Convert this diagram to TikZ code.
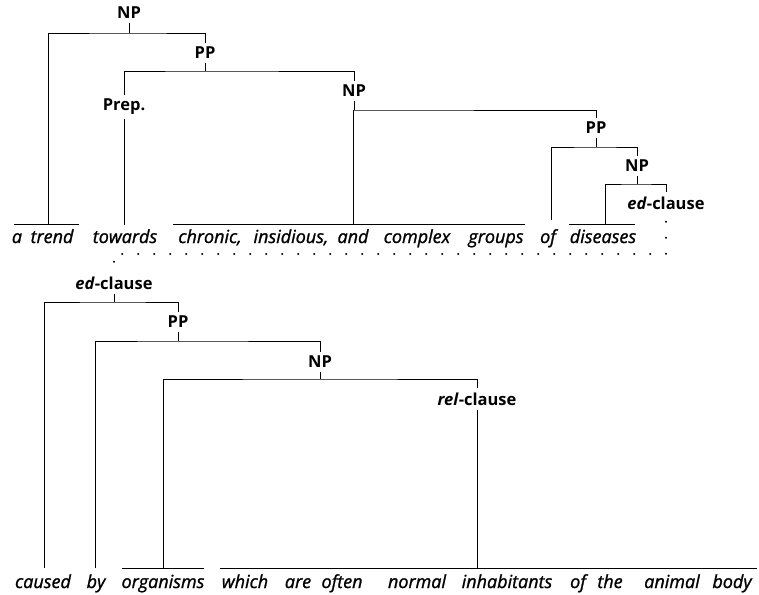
\documentclass[tikz,border=0pt]{standalone}
\usepackage{fontspec}
\setmainfont{Open Sans}
\newfontfamily\wordfont[FakeBold=1.2]{Open Sans}
\begin{document}
\begin{tikzpicture}[x=1pt,y=-1pt,line width=0.8pt,
  cat/.style={font=\fontsize{16.5}{19}\selectfont\bfseries,inner sep=4pt},
  word/.style={font=\fontsize{18}{21}\selectfont\wordfont\itshape,inner sep=0pt,anchor=base},
  dotlink/.style={line width=2.4pt,line cap=round,dash pattern=on 0pt off 16pt,dash phase=8pt}]
  \useasboundingbox (0,0) rectangle (759,594);
  % categories of the first line
  \node[cat] (np1) at (129,13) {NP};
  \node[cat] (pp1) at (205,53) {PP};
  \node[cat] (prep) at (124,107) {Prep.};
  \node[cat] (np2) at (354,91) {NP};
  \node[cat] (pp2) at (596,128) {PP};
  \node[cat] (np3) at (637,166) {NP};
  \node[cat] (ed1) at (666,203) {\textit{ed}-clause};
  % words of the first line
  \node[word] (wa) at (17,243) {a};
  \node[word] (wtrend) at (52,243) {trend};
  \node[word] (wtowards) at (125,243) {towards};
  \node[word] (wchronic) at (210,243) {chronic,};
  \node[word] (winsid) at (291,243) {insidious,};
  \node[word] (wand) at (353,243) {and};
  \node[word] (wcomplex) at (417,243) {complex};
  \node[word] (wgroups) at (496,243) {groups};
  \node[word] (wof) at (548,243) {of};
  \node[word] (wdiseases) at (603,243) {diseases};
  % categories of the second line
  \node[cat] (ed2) at (114,283) {\textit{ed}-clause};
  \node[cat] (pp3) at (178,322) {PP};
  \node[cat] (np4) at (320,362) {NP};
  \node[cat] (rel) at (477,399) {\textit{rel}-clause};
  % words of the second line
  \node[word] (wcaused) at (43,588) {caused};
  \node[word] (wby) at (96,588) {by};
  \node[word] (worg) at (163,588) {organisms};
  \node[word] (wwhich) at (245,588) {which};
  \node[word] (ware) at (298,588) {are};
  \node[word] (woften) at (342,588) {often};
  \node[word] (wnormal) at (417,588) {normal};
  \node[word] (winhab) at (507,588) {inhabitants};
  \node[word] (wof2) at (578,588) {of};
  \node[word] (wthe) at (610,588) {the};
  \node[word] (wanimal) at (672,588) {animal};
  \node[word] (wbody) at (732,588) {body};
  % underlines and attachment points
  \coordinate (uA1) at (14,224); \coordinate (uA2) at (79,224);
  \coordinate (uB1) at (173,224); \coordinate (uB2) at (525,224);
  \coordinate (uC1) at (569,224); \coordinate (uC2) at (635,224);
  \coordinate (uD1) at (122,568); \coordinate (uD2) at (204,568);
  \coordinate (uE1) at (220,568); \coordinate (uE2) at (757,568);
  \draw (uA1) -- (uA2) (uB1) -- (uB2) (uC1) -- (uC2) (uD1) -- (uD2) (uE1) -- (uE2);
  \coordinate (hA) at (48,224);
  \coordinate (hTo) at (124,225);
  \coordinate (hB) at (353,224);
  \coordinate (hOf) at (551,220);
  \coordinate (hC) at (605,224);
  \coordinate (hCa) at (44,568);
  \coordinate (hBy) at (95,568);
  \coordinate (hD) at (163,568);
  \coordinate (hE) at (477,568);
  % bars
  \coordinate (b1) at (129,33);
  \coordinate (b2) at (205,71);
  \coordinate (b3) at (354,110);
  \coordinate (b4) at (596,147);
  \coordinate (b5) at (637,184);
  \coordinate (b6) at (114,302);
  \coordinate (b7) at (178,341);
  \coordinate (b8) at (320,379);
  % branches
  \draw (np1) -- (b1) (hA) |- (b1) -| (pp1);
  \draw (pp1) -- (b2) (prep) |- (b2) -| (np2);
  \draw (prep) -- (hTo);
  \draw (np2) -- (b3) (hB) |- (b3) -| (pp2);
  \draw (pp2) -- (b4) (hOf) |- (b4) -| (np3);
  \draw (np3) -- (b5) (hC) |- (b5) -| (ed1);
  \coordinate (dl) at (114,254);
  \draw[dotlink] (ed1) |- (dl) -- (ed2);
  \draw (ed2) -- (b6) (hCa) |- (b6) -| (pp3);
  \draw (pp3) -- (b7) (hBy) |- (b7) -| (np4);
  \draw (np4) -- (b8) (hD) |- (b8) -| (rel);
  \draw (rel) -- (hE);
\end{tikzpicture}
\end{document}
